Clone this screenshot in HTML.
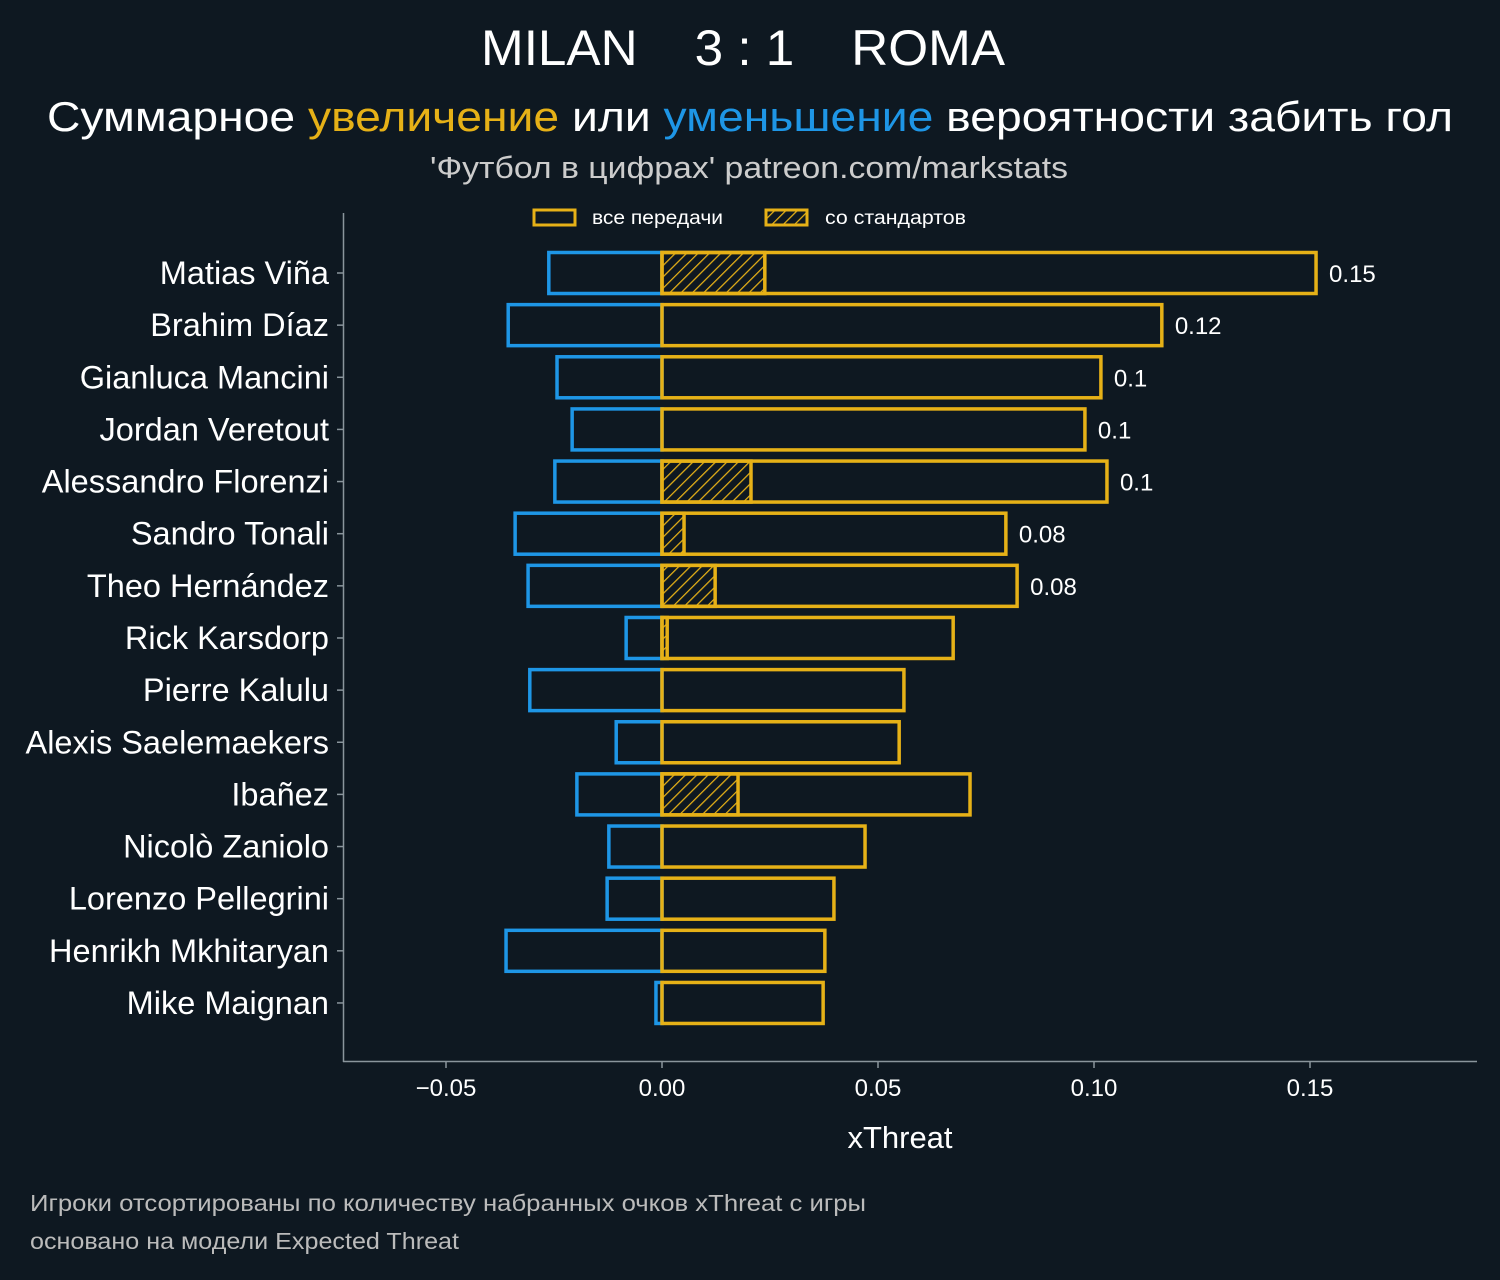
<!DOCTYPE html>
<html><head><meta charset="utf-8"><style>
body{margin:0;background:#0e1821;}
svg text{font-family:"Liberation Sans","DejaVu Sans",sans-serif;}
</style></head><body>
<svg id="c" width="1500" height="1275" xmlns="http://www.w3.org/2000/svg">
<defs><pattern id="hatch" patternUnits="userSpaceOnUse" width="8" height="8" patternTransform="rotate(45)"><rect width="8" height="8" fill="#0e1821"/><line x1="0" y1="0" x2="0" y2="8" stroke="#e6b117" stroke-width="2.5"/></pattern></defs>
<rect width="1500" height="1275" fill="#0e1821"/>
<text x="481" y="65" textLength="524" lengthAdjust="spacingAndGlyphs" font-size="50" fill="#fff" xml:space="preserve">MILAN    3 : 1    ROMA</text>
<text x="47" y="131" textLength="1406" lengthAdjust="spacingAndGlyphs" font-size="42" fill="#fff">Суммарное <tspan fill="#e6b117">увеличение</tspan> или <tspan fill="#1e96e6">уменьшение</tspan> вероятности забить гол</text>
<text x="430" y="178" textLength="638" lengthAdjust="spacingAndGlyphs" font-size="31" fill="#ccc">'Футбол в цифрах' patreon.com/markstats</text>
<rect x="534" y="210" width="41" height="15" fill="none" stroke="#e6b117" stroke-width="3"/>
<text x="592" y="224" textLength="131" lengthAdjust="spacingAndGlyphs" font-size="19" fill="#fff">все передачи</text>
<rect x="766" y="210" width="41" height="15" fill="url(#hatch)" stroke="#e6b117" stroke-width="3"/>
<text x="825" y="224" textLength="141" lengthAdjust="spacingAndGlyphs" font-size="19" fill="#fff">со стандартов</text>
<line x1="343.5" y1="213" x2="343.5" y2="1062" stroke="#8a959c" stroke-width="1.5"/>
<line x1="343" y1="1061.5" x2="1477" y2="1061.5" stroke="#8a959c" stroke-width="1.5"/>
<g id="marks"></g>
<text x="900" y="1148" text-anchor="middle" font-size="31" fill="#fff">xThreat</text>
<text x="30" y="1211" textLength="836" lengthAdjust="spacingAndGlyphs" font-size="23" fill="#bbb">Игроки отсортированы по количеству набранных очков xThreat с игры</text>
<text x="30" y="1249" textLength="429" lengthAdjust="spacingAndGlyphs" font-size="23" fill="#bbb">основано на модели Expected Threat</text>
</svg>
<script>
const players=["Matias Viña","Brahim Díaz","Gianluca Mancini","Jordan Veretout","Alessandro Florenzi","Sandro Tonali","Theo Hernández","Rick Karsdorp","Pierre Kalulu","Alexis Saelemaekers","Ibañez","Nicolò Zaniolo","Lorenzo Pellegrini","Henrikh Mkhitaryan","Mike Maignan"];
const positive=[0.1514,0.1157,0.1016,0.0979,0.1030,0.0796,0.0822,0.0674,0.0560,0.0549,0.0713,0.0470,0.0398,0.0377,0.0373];
const setPieces=[0.0238,0,0,0,0.0206,0.0051,0.0123,0.0012,0,0,0.0176,0,0,0,0];
const negative=[-0.0262,-0.0356,-0.0243,-0.0208,-0.0248,-0.0340,-0.0310,-0.0083,-0.0306,-0.0106,-0.0197,-0.0123,-0.0127,-0.0361,-0.0014];
const valueLabels=["0.15","0.12","0.1","0.1","0.1","0.08","0.08"];
const xTicks=[-0.05,0,0.05,0.1,0.15];
const xTickLabels=["−0.05","0.00","0.05","0.10","0.15"];
const x=v=>662+v*4320;
const y=i=>273+i*52.14;
const g=document.getElementById('marks');
const NS="http://www.w3.org/2000/svg";
function mk(t,a){const e=document.createElementNS(NS,t);for(const k in a)e.setAttribute(k,a[k]);g.appendChild(e);return e;}
xTicks.forEach((t,i)=>{
 const l=mk('line',{x1:x(t),x2:x(t),y1:1062,y2:1068,stroke:'#8a959c','stroke-width':1.5});
 
 
 const tx=mk('text',{x:x(t),y:1096,'text-anchor':'middle','font-size':24,fill:'#fff'});tx.textContent=xTickLabels[i];
 
 
});
players.forEach((p,i)=>{
 const cy=y(i),h=41;
 const tk=mk('line',{x1:337,x2:343,y1:cy,y2:cy,stroke:'#8a959c','stroke-width':1.5});
 
 
 const lb=mk('text',{x:329,y:cy+11,'text-anchor':'end','font-size':32.5,fill:'#fff'});lb.textContent=p;
 
 
 const n=mk('rect',{x:x(negative[i]),y:cy-h/2,width:x(0)-x(negative[i]),height:h,fill:'none',stroke:'#1e96e6','stroke-width':3.5});
 
 
 if(setPieces[i]>0){
  const s=mk('rect',{x:x(0),y:cy-h/2,width:x(setPieces[i])-x(0),height:h,fill:'url(#hatch)',stroke:'#e6b117','stroke-width':3.5});
  
  
 }
 const b=mk('rect',{x:x(0),y:cy-h/2,width:x(positive[i])-x(0),height:h,fill:'none',stroke:'#e6b117','stroke-width':3.5});
 
 
 if(valueLabels[i]){
  const v=mk('text',{x:x(positive[i])+13,y:cy+9,'font-size':24,fill:'#fff'});v.textContent=valueLabels[i];
  
  
 }
});
</script>
</body></html>
